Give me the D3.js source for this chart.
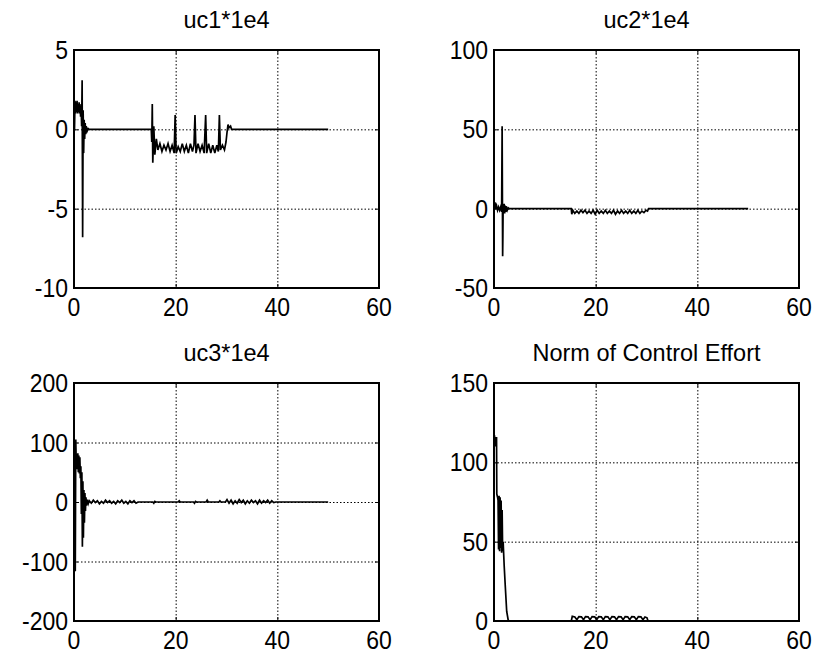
<!DOCTYPE html>
<html>
<head>
<meta charset="utf-8">
<script src="https://cdn.jsdelivr.net/npm/d3@7/dist/d3.min.js"></script>
<style>
  body { margin: 0; background: #fff; }
  text { font-family: "Liberation Sans", Arial, sans-serif; fill: #000; }
</style>
</head>
<body>
<div id="fig"></div>
<script>
// values, [time, value]
var uc1 = [[0,0],[0.1,0],[0.2,1.8],[0.3,1.0],[0.4,1.7],[0.5,1.1],[0.6,1.8],[0.7,1.0],[0.8,1.6],[0.9,1.1],[1.0,1.7],[1.1,1.0],
  [1.2,1.5],[1.3,0.8],[1.4,1.6],[1.5,0.2],[1.6,3.1],[1.7,-6.8],[1.8,1.2],[1.9,-1.5],[2.0,0.6],[2.1,-0.6],[2.2,0.4],[2.3,-0.3],
  [2.4,0.2],[2.6,-0.1],[2.8,0.05],[3.0,0],[15.2,0],[15.3,-0.8],[15.4,1.6],[15.5,-2.1],[15.7,0.2],[15.9,-1.6],[16.2,-0.6],
  [16.5,-1.3],[16.9,-0.9],[17.3,-1.4],[17.7,-1.0],[18.1,-1.3],[18.5,-0.9],[18.9,-1.4],[19.3,-1.0],[19.7,-1.5],[19.9,0.9],
  [20.1,-1.5],[20.5,-1.1],[20.9,-1.4],[21.3,-0.9],[21.7,-1.4],[22.1,-1.0],[22.5,-1.5],[22.9,-0.9],[23.3,-1.4],[23.6,-1.0],
  [23.8,0.9],[24.0,-1.5],[24.4,-0.9],[24.8,-1.4],[25.2,-1.0],[25.6,-1.5],[25.9,0.9],[26.1,-1.5],[26.5,-0.9],[26.9,-1.5],
  [27.3,-1.0],[27.7,-1.5],[28.1,-1.0],[28.4,-1.4],[28.6,0.9],[28.8,-1.3],[29.2,-1.0],[29.6,-1.3],[29.9,-0.8],[30.1,-0.2],
  [30.3,0.3],[30.5,0.1],[30.8,0.2],[31.0,0],[50,0]];

var uc2 = [[0,0],[0.1,0],[0.2,4],[0.3,0],[0.5,2],[0.7,-1],[0.9,1],[1.1,-1],[1.3,1],[1.5,-2],[1.6,52],[1.7,-30],[1.75,-17],
  [1.8,3],[1.9,-3],[2.0,3],[2.1,-3],[2.2,2],[2.3,-2],[2.4,1.5],[2.6,-1],[2.8,0.5],[3,0],[15.2,0],[15.3,-3.5],[15.5,-1],
  [15.9,-3],[16.3,-1.5],[16.7,-3],[17.1,-1],[17.5,-2.5],[17.9,-1],[18.3,-3],[18.7,-1.5],[19.1,-3],[19.5,-1],[19.9,-3.5],
  [20.3,-1],[20.7,-3],[21.1,-1.5],[21.5,-3],[21.9,-1],[22.3,-3],[22.7,-1.5],[23.1,-3],[23.5,-1],[23.9,-3.5],[24.3,-1.5],
  [24.7,-3],[25.1,-1],[25.5,-3],[25.9,-1.5],[26.3,-3],[26.7,-1],[27.1,-3],[27.5,-1.5],[27.9,-3],[28.3,-1],[28.7,-3],
  [29.1,-1.5],[29.5,-2.5],[29.9,-1],[30.2,-1.5],[30.4,0],[50,0]];

var uc3 = [[0,0],[0.05,-115],[0.25,-115],[0.35,105],[0.45,60],[0.55,80],[0.65,55],[0.75,82],[0.85,50],[0.95,78],[1.05,48],
  [1.15,75],[1.25,40],[1.35,60],[1.45,-20],[1.55,50],[1.65,-75],[1.75,35],[1.85,-60],[1.95,20],[2.05,-35],[2.15,15],
  [2.25,-15],[2.35,8],[2.45,-6],[2.6,4],[2.8,-3],[3.0,2],[3.4,-2],[3.8,3],[4.2,-1],[4.6,2],[5.0,-3],[5.4,1],[5.8,-2],
  [6.2,3],[6.6,-1],[7.0,2],[7.4,-2],[7.8,1],[8.2,-3],[8.6,2],[9.0,-1],[9.4,3],[9.8,-2],[10.2,1],[10.6,-3],[11.0,2],
  [11.4,-1],[11.8,2],[12.2,-2],[12.6,0],[15.5,0],[15.7,-2],[15.9,1],[16.1,0],[20.5,0],[20.7,2],[20.9,0],[23.5,0],
  [23.7,-2],[23.9,1],[24.1,0],[26,0],[26.2,3],[26.4,0],[28.5,0],[28.7,2],[28.9,0],[29.8,0],[30.1,4],[30.5,-2],[30.9,3],
  [31.3,-3],[31.7,2],[32.1,-2],[32.5,4],[32.9,-1],[33.3,3],[33.7,-3],[34.1,2],[34.5,-2],[34.9,3],[35.3,-1],[35.7,2],
  [36.1,-3],[36.5,3],[36.9,-2],[37.3,2],[37.7,-1],[38.1,3],[38.5,-2],[38.9,2],[39.3,-1],[39.7,0],[50,0]];

var normU = [[0,113],[0.1,117],[0.2,110],[0.3,116],[0.4,111],[0.5,116],[0.55,80],[0.7,78],[0.8,76],[0.9,45],[1.0,79],
  [1.1,44],[1.2,78],[1.3,46],[1.4,76],[1.5,43],[1.6,70],[1.7,44],[1.8,50],[2.0,35],[2.2,23],[2.5,6],[2.8,0.5],[3,0],
  [15.2,0],[15.4,3],[15.9,2.5],[16.3,0.8],[16.7,2.8],[17.2,2.6],[17.6,0.8],[18.0,2.8],[18.5,2.6],[18.9,0.8],[19.3,2.8],
  [19.8,2.6],[20.2,0.8],[20.6,2.8],[21.1,2.6],[21.5,0.8],[21.9,2.8],[22.4,2.6],[22.8,0.8],[23.2,2.8],[23.7,2.6],[24.1,0.8],
  [24.5,2.8],[25.0,2.6],[25.4,0.8],[25.8,2.8],[26.3,2.6],[26.7,0.8],[27.1,2.8],[27.6,2.6],[28.0,0.8],[28.4,2.8],[28.9,2.6],
  [29.3,0.8],[29.7,2.5],[30.1,2],[30.3,0],[50,0]];

var titles = ["uc1*1e4", "uc2*1e4", "uc3*1e4", "Norm of Control Effort"];
var xTicks = [0, 20, 40, 60];
var yTicks1 = [-10, -5, 0, 5];
var yTicks2 = [-50, 0, 50, 100];
var yTicks3 = [-200, -100, 0, 100, 200];
var yTicks4 = [0, 50, 100, 150];

var width = 817, height = 658;
var svg = d3.select("#fig").append("svg")
    .attr("width", width)
    .attr("height", height);

// subplot boxes
var panels = [
  {title: titles[0], data: uc1,   yt: yTicks1, left: 74,  top: 50},
  {title: titles[1], data: uc2,   yt: yTicks2, left: 494, top: 50},
  {title: titles[2], data: uc3,   yt: yTicks3, left: 74,  top: 383},
  {title: titles[3], data: normU, yt: yTicks4, left: 494, top: 383}
];
var pw = 305, ph = 238;

// the printed text is a bit taller than it is wide
let label = (g, x, y, txt, anchor, size, sy) => {
    g.append("g")
        .attr("transform", "translate(" + x + "," + y + ") scale(1," + sy + ")")
      .append("text")
        .attr("text-anchor", anchor)
        .style("font-size", size + "px")
        .text(txt);
};

panels.forEach((p, i) => {
    let x = d3.scaleLinear().domain([0, 60]).range([0, pw]);
    let y = d3.scaleLinear().domain(d3.extent(p.yt)).range([ph, 0]);

    let g = svg.append("g")
        .attr("transform", "translate(" + p.left + "," + p.top + ")");

    svg.append("clipPath").attr("id", "clip" + i)
      .append("rect").attr("width", pw).attr("height", ph);

    // dotted grid
    g.append("g")
        .attr("class", "grid")
        .call(d3.axisBottom(x).tickValues(xTicks.slice(1, -1)).tickSize(ph).tickFormat(""));
    g.append("g")
        .attr("class", "grid")
        .call(d3.axisLeft(y).tickValues(p.yt.slice(1, -1)).tickSize(-pw).tickFormat(""));
    g.selectAll(".grid .domain").remove();
    g.selectAll(".grid line")
        .attr("stroke", "#000")
        .attr("stroke-width", 1)
        .attr("stroke-dasharray", "1.5,2");

    // inward tick marks on all four sides
    g.append("g").attr("transform", "translate(0," + ph + ")")
        .call(d3.axisBottom(x).tickValues(xTicks).tickSize(-4).tickFormat(""));
    g.append("g")
        .call(d3.axisTop(x).tickValues(xTicks).tickSize(-4).tickFormat(""));
    g.append("g")
        .call(d3.axisLeft(y).tickValues(p.yt).tickSize(-4).tickFormat(""));
    g.append("g").attr("transform", "translate(" + pw + ",0)")
        .call(d3.axisRight(y).tickValues(p.yt).tickSize(-4).tickFormat(""));
    g.selectAll(".domain").remove();

    // the signal
    let line = d3.line()
        .x(d => x(d[0]))
        .y(d => y(d[1]));
    g.append("path")
        .datum(p.data)
        .attr("clip-path", "url(#clip" + i + ")")
        .attr("fill", "none")
        .attr("stroke", "#000")
        .attr("stroke-width", 1.7)
        .attr("stroke-linejoin", "miter")
        .attr("d", line);

    // box
    g.append("rect")
        .attr("width", pw)
        .attr("height", ph)
        .attr("fill", "none")
        .attr("stroke", "#000")
        .attr("stroke-width", 2);

    xTicks.forEach(t => label(g, x(t), ph + 28, t, "middle", 23, 1.1));
    p.yt.forEach(t => label(g, -6, y(t) + 9, t, "end", 23, 1.1));
    label(g, pw / 2, -22, p.title, "middle", 23.5, 1.05);
});
</script>
</body>
</html>
